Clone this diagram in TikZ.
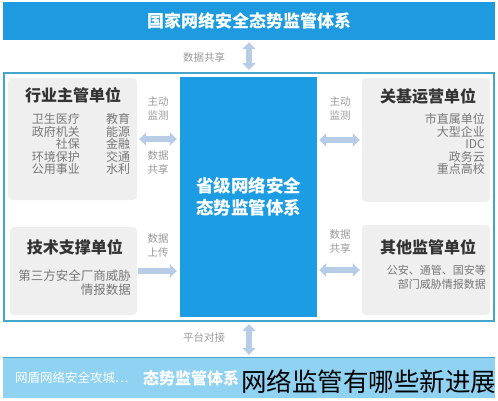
\documentclass[tikz,border=0pt]{standalone}
\usepackage{fontspec}
\setmainfont{Noto Sans CJK SC}
\usetikzlibrary{arrows.meta}

\definecolor{topblue}{HTML}{1E9BE0}
\definecolor{provblue}{HTML}{1C9CE2}
\definecolor{framec}{HTML}{45A6CC}
\definecolor{barblue}{HTML}{90D2F2}
\definecolor{arrowc}{HTML}{B7CDE7}
\definecolor{boxgray}{HTML}{EFEFEF}
\definecolor{titlec}{HTML}{333333}
\definecolor{itemc}{HTML}{777777}
\definecolor{labelc}{HTML}{999999}

\def\rowgap{12.6}
\tikzstyle{bluebar}=[fill=topblue, inner sep=0pt, text=white, font=\fontsize{17}{20}\selectfont\bfseries]
\tikzstyle{unitbox}=[rounded corners=4pt, fill=boxgray, inner sep=0pt]
\tikzstyle{unittitle}=[text=titlec, font=\fontsize{16}{18}\selectfont\bfseries, inner sep=0pt]
\tikzstyle{item}=[text=itemc, font=\fontsize{12}{13}\selectfont, inner sep=0pt]
\tikzstyle{flowlabel}=[text=labelc, font=\fontsize{10.5}{14}\selectfont, align=center, inner sep=0pt]
\tikzstyle{fat}=[draw=arrowc, line width=5.5pt, {Triangle[width=13pt,length=7pt]}-{Triangle[width=13pt,length=7pt]}]
\tikzstyle{fatone}=[draw=arrowc, line width=5.5pt, -{Triangle[width=13pt,length=7pt]}]

\begin{document}
\begin{tikzpicture}[x=1pt, y=-1pt]
  \useasboundingbox (0,0) rectangle (498,400);

  % national level
  \node[bluebar, minimum width=492pt, minimum height=38pt] (nat) at (249,21) {国家网络安全态势监管体系};
  \node[flowlabel] (natlab) at (204,57) {数据共享};

  % provincial frame
  \node[draw=framec, line width=2pt, minimum width=490pt, minimum height=248pt] (frame) at (249,197) {};
  \node[fill=provblue, text=white, align=center, minimum width=137pt, minimum height=240pt,
        font=\fontsize{17.5}{22}\selectfont\bfseries] (prov) at (248.5,197) {省级网络安全\\态势监管体系};

  % unit boxes
  \node[unitbox, minimum width=129pt, minimum height=122pt] (hy) at (72.5,139) {};
  \node[unitbox, minimum width=128pt, minimum height=124pt] (gj) at (426,140) {};
  \node[unitbox, minimum width=127pt, minimum height=88pt] (js) at (73.5,271) {};
  \node[unitbox, minimum width=128pt, minimum height=90pt] (qt) at (426,270) {};

  \node[unittitle] (hyt) at (73,95) {行业主管单位};
  \node[unittitle] (gjt) at (428,96) {关基运营单位};
  \node[unittitle] (jst) at (75,247) {技术支撑单位};
  \node[unittitle] (qtt) at (428,247) {其他监管单位};

  \foreach \txt [count=\i from 0] in {卫生医疗, 政府机关, 社保, 环境保护, 公用事业}
    \node[item, anchor=east] (hyl\i) at (80, 119+\rowgap*\i) {\txt};
  \foreach \txt [count=\i from 0] in {教育, 能源, 金融, 交通, 水利}
    \node[item, anchor=west] (hyr\i) at (106, 119+\rowgap*\i) {\txt};
  \foreach \txt [count=\i from 0] in {市直属单位, 大型企业, IDC, 政务云, 重点高校}
    \node[item, anchor=east] (gji\i) at (485, 119+\rowgap*\i) {\txt};
  \foreach \txt [count=\i from 0] in {第三方安全厂商威胁, 情报数据}
    \node[item, anchor=east, font=\fontsize{12.5}{13}\selectfont] (jsi\i) at (131, 276+14*\i) {\txt};
  \foreach \txt [count=\i from 0] in {公安、通管、国安等, 部门威胁情报数据}
    \node[item, anchor=east, font=\fontsize{11}{12}\selectfont] (qti\i) at (486, 270+14*\i) {\txt};

  % flows into the provincial system
  \node[flowlabel] (lab1) at (158,109) {主动\\监测};
  \node[flowlabel] (lab2) at (158,163) {数据\\共享};
  \node[flowlabel] (lab3) at (340,109) {主动\\监测};
  \node[flowlabel] (lab4) at (158,245) {数据\\上传};
  \node[flowlabel] (lab5) at (340,242) {数据\\共享};

  \path[fat, shorten <=2pt, shorten >=3pt] (hy.east) -- (hy.east -| prov.west);
  \path[fat, shorten <=2pt, shorten >=2pt] (gj.west) -- (gj.west -| prov.east);
  \path[fatone, shorten <=1pt, shorten >=3pt] (js.east) -- (js.east -| prov.west);
  \path[fat, shorten <=2pt, shorten >=2pt] (qt.west) -- (qt.west -| prov.east);

  % city level
  \node[fill=barblue, minimum width=492pt, minimum height=40pt, inner sep=0pt] (bar) at (249,378) {};
  \draw[framec, line width=1.2pt] (bar.north west) -- (bar.north east);
  \node[anchor=west, inner sep=0pt, text=white, font=\fontsize{12.5}{14}\selectfont] (barsub) at (15,378) {网盾网络安全攻城…};
  \node[anchor=west, inner sep=0pt, text=white, font=\fontsize{16}{18}\selectfont\bfseries] (bart) at (143,378) {态势监管体系};
  \node[flowlabel] (barlab) at (204,337) {平台对接};

  \path[fat, shorten <=2pt, shorten >=2pt] (nat.south) -- (frame.north);
  \path[fat, shorten <=2pt, shorten >=3pt] (frame.south) -- (bar.north);

  \node[anchor=west, inner sep=0pt, font=\fontsize{25.5}{27}\selectfont] (wm) at (241,382) {网络监管有哪些新进展};
\end{tikzpicture}
\end{document}
